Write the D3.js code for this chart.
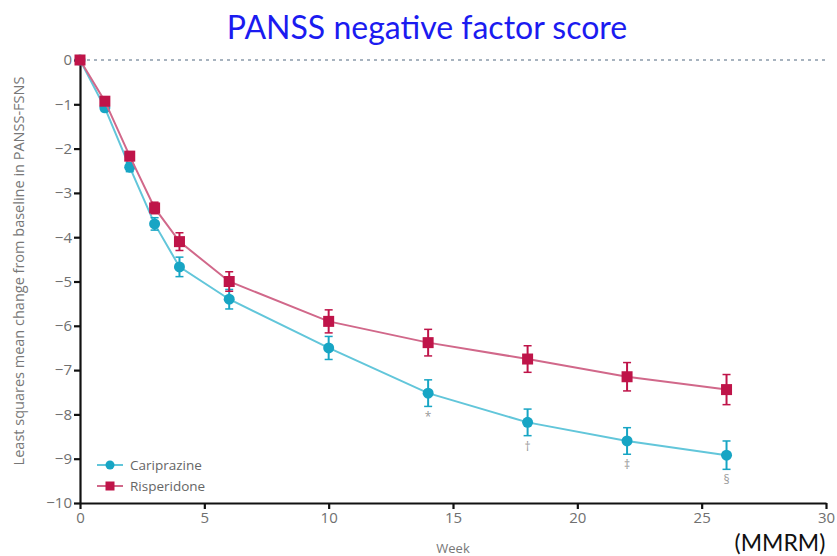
<!DOCTYPE html>
<html>
<head>
<meta charset="utf-8">
<style type="text/css">
	body { margin: 0; background: white; }
	.chart text { font-family: "Open Sans", "Noto Sans", sans-serif; }
	.axis path, .axis line { stroke: #111; stroke-width: 2.2; }
	.axis text { fill: #707070; font-size: 15px; }
</style>
</head>
<body>
<svg class="chart" width="837" height="556"></svg>

<script src="https://cdn.jsdelivr.net/npm/d3@7"></script>
<script>
// data
var weeks = [0, 1, 2, 3, 4, 6, 10, 14, 18, 22, 26];
var cariprazine = [0, -1.08, -2.42, -3.7, -4.67, -5.4, -6.5, -7.52, -8.18, -8.6, -8.92];
var cariprazineErr = [0, 0.08, 0.1, 0.14, 0.22, 0.22, 0.26, 0.3, 0.3, 0.3, 0.32];
var risperidone = [0, -0.93, -2.17, -3.34, -4.1, -5.0, -5.9, -6.38, -6.75, -7.15, -7.44];
var risperidoneErr = [0, 0.08, 0.1, 0.13, 0.2, 0.22, 0.26, 0.3, 0.3, 0.32, 0.34];
var markWeeks = [14, 18, 22, 26];
var markSymbols = ["*", "\u2020", "\u2021", "\u00a7"];
var xTicks = [0, 5, 10, 15, 20, 25, 30];
var yTicks = [0, -1, -2, -3, -4, -5, -6, -7, -8, -9, -10];

var svg = d3.select("svg");

var x = d3.scaleLinear().domain([0, 30]).range([80, 826]);
var y = d3.scaleLinear().domain([0, -10]).range([60, 503]);

var cariColor = "#17a5c4", cariLine = "#62c6da";
var rispColor = "#bf1449", rispLine = "#d1688a";

// title
svg.append("text")
	.attr("x", 427).attr("y", 39)
	.attr("text-anchor", "middle")
	.style("font-family", "Lato, 'Open Sans', sans-serif")
	.style("font-size", "32px")
	.style("fill", "#1b1bf0")
	.text("PANSS negative factor score");

// dotted zero line
svg.append("line")
	.attr("x1", x(0)).attr("x2", x(30))
	.attr("y1", y(0)).attr("y2", y(0))
	.attr("stroke", "#8a9aaa").attr("stroke-width", 1.5)
	.attr("stroke-dasharray", "3,4");

// axes
svg.append("g")
	.attr("class", "axis")
	.attr("transform", "translate(" + x(0) + ",0)")
	.call(d3.axisLeft(y).tickValues(yTicks).tickSize(6).tickSizeOuter(0).tickFormat(d3.format("d")))
	.call(function(g) { g.selectAll("text").attr("x", -8); });

svg.append("g")
	.attr("class", "axis")
	.attr("transform", "translate(0," + y(-10) + ")")
	.call(d3.axisBottom(x).tickValues(xTicks).tickSize(6).tickSizeOuter(0))
	.call(function(g) { g.selectAll("text").attr("y", 9); });

// axis labels
svg.append("text")
	.attr("transform", "translate(24,271) rotate(-90)")
	.attr("text-anchor", "middle")
	.style("font-size", "14.5px")
	.style("fill", "#777")
	.text("Least squares mean change from baseline in PANSS-FSNS");

svg.append("text")
	.attr("x", 453).attr("y", 553)
	.attr("text-anchor", "middle")
	.style("font-size", "13px")
	.style("fill", "#777")
	.text("Week");

svg.append("text")
	.attr("x", 780).attr("y", 551)
	.attr("text-anchor", "middle")
	.style("font-family", "Lato, 'Open Sans', sans-serif")
	.style("font-size", "23px")
	.style("fill", "#111")
	.text("(MMRM)");

function series(vals, errs, markColor, lineColor, shape) {
	var pts = weeks.map(function(w, i) { return { w: w, v: vals[i], e: errs[i] }; });
	var g = svg.append("g");

	g.append("path")
		.datum(pts)
		.attr("fill", "none")
		.attr("stroke", lineColor)
		.attr("stroke-width", 2)
		.attr("d", d3.line().x(function(d) { return x(d.w); }).y(function(d) { return y(d.v); }));

	var eb = g.selectAll(".eb").data(pts.filter(function(d) { return d.e > 0; })).enter().append("g");
	eb.append("line")
		.attr("x1", function(d) { return x(d.w); }).attr("x2", function(d) { return x(d.w); })
		.attr("y1", function(d) { return y(d.v + d.e); }).attr("y2", function(d) { return y(d.v - d.e); })
		.attr("stroke", markColor).attr("stroke-width", 2);
	[1, -1].forEach(function(s) {
		eb.append("line")
			.attr("x1", function(d) { return x(d.w) - 4; }).attr("x2", function(d) { return x(d.w) + 4; })
			.attr("y1", function(d) { return y(d.v + s * d.e); }).attr("y2", function(d) { return y(d.v + s * d.e); })
			.attr("stroke", markColor).attr("stroke-width", 1.5);
	});

	if (shape == "circle") {
		g.selectAll("circle").data(pts).enter().append("circle")
			.attr("cx", function(d) { return x(d.w); })
			.attr("cy", function(d) { return y(d.v); })
			.attr("r", 5.5)
			.attr("fill", markColor);
	} else {
		g.selectAll("rect").data(pts).enter().append("rect")
			.attr("x", function(d) { return x(d.w) - 5.5; })
			.attr("y", function(d) { return y(d.v) - 5.5; })
			.attr("width", 11).attr("height", 11)
			.attr("fill", markColor);
	}
}

series(cariprazine, cariprazineErr, cariColor, cariLine, "circle");
series(risperidone, risperidoneErr, rispColor, rispLine, "rect");

// significance marks under cariprazine
svg.selectAll(".sig").data(markWeeks).enter().append("text")
	.attr("x", function(d) { return x(d); })
	.attr("y", function(d, i) { var k = weeks.indexOf(d); return y(cariprazine[k] - cariprazineErr[k]) + 15; })
	.attr("text-anchor", "middle")
	.style("font-size", "12px")
	.style("fill", "#999")
	.text(function(d, i) { return markSymbols[i]; });

// legend
var legend = [
	{ name: "Cariprazine", color: cariColor, line: cariLine, shape: "circle" },
	{ name: "Risperidone", color: rispColor, line: rispLine, shape: "rect" }
];
var lg = svg.selectAll(".lg").data(legend).enter().append("g")
	.attr("transform", function(d, i) { return "translate(97," + (465 + i * 21) + ")"; });
lg.append("line").attr("x1", 0).attr("x2", 26).attr("y1", 0).attr("y2", 0)
	.attr("stroke", function(d) { return d.line; }).attr("stroke-width", 2);
lg.each(function(d) {
	var s = d3.select(this);
	if (d.shape == "circle") s.append("circle").attr("cx", 13).attr("cy", 0).attr("r", 4.5).attr("fill", d.color);
	else s.append("rect").attr("x", 8.5).attr("y", -4.5).attr("width", 9).attr("height", 9).attr("fill", d.color);
});
lg.append("text").attr("x", 33).attr("y", 5)
	.style("font-size", "13.5px").style("fill", "#666")
	.text(function(d) { return d.name; });
</script>
</body>
</html>
